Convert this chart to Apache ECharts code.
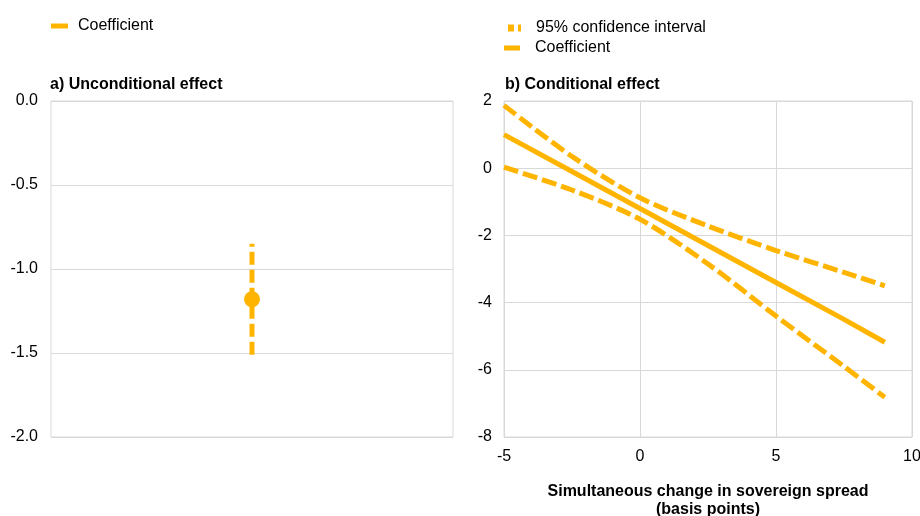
<!DOCTYPE html>
<html>
<head>
<meta charset="utf-8">
<script src="https://cdn.jsdelivr.net/npm/echarts@6/dist/echarts.min.js"></script>
<style>
  html, body { margin: 0; padding: 0; background: #fff; }
  #chart { width: 920px; height: 516px; }
</style>
</head>
<body>
<div id="chart"></div>
<script>
// a) unconditional effect: one coefficient with its 95% band
const uncondCoef = -1.18
const uncondCI = [-0.85, -1.51]

// b) conditional effect over the simultaneous change in sovereign spread
const spreadX = [-5, -2.5, 0, 2.5, 5, 7.5, 9]
const coefLine = [1.0, -0.1, -1.2, -2.3, -3.4, -4.5, -5.18]
const ciUpper = [1.87, 0.35, -0.88, -1.72, -2.45, -3.1, -3.5]
const ciLower = [0.03, -0.65, -1.52, -2.85, -4.4, -5.9, -6.82]

const leftTicks = [0, -0.5, -1, -1.5, -2]
const rightYTicks = [2, 0, -2, -4, -6, -8]
const rightXTicks = [-5, 0, 5, 10]

const amber = '#FFB400'
const gridGray = '#d9d9d9'
const font = 'Liberation Sans, Arial, sans-serif'
const fs = 16

const pair = (xs, ys) => xs.map((x, i) => [x, ys[i]])

const chart = echarts.init(document.getElementById('chart'))

const option = {
  backgroundColor: '#fff',
  animation: false,
  textStyle: { fontFamily: font },
  title: [
    {
      text: 'a) Unconditional effect',
      left: 50, top: 77, padding: 0,
      textStyle: { fontSize: fs, fontWeight: 'bold', color: '#000', fontFamily: font }
    },
    {
      text: 'b) Conditional effect',
      left: 505, top: 77, padding: 0,
      textStyle: { fontSize: fs, fontWeight: 'bold', color: '#000', fontFamily: font }
    }
  ],
  legend: [
    {
      left: 51, top: 18, padding: 0,
      itemWidth: 17, itemHeight: 5,
      data: [{ name: 'Coefficient', icon: 'rect' }],
      textStyle: { fontSize: fs, color: '#000', fontFamily: font, padding: [0, 0, 0, 5] }
    },
    {
      left: 508, top: 20, padding: 0,
      itemWidth: 13, itemHeight: 7,
      data: [{ name: '95% confidence interval', icon: 'path://M0,0h6v7h-6z M10,0h3v7h-3z' }],
      textStyle: { fontSize: fs, color: '#000', fontFamily: font, padding: [0, 0, 0, 10] }
    },
    {
      left: 504, top: 40, padding: 0,
      itemWidth: 16, itemHeight: 5,
      data: [{ name: 'Coefficient ', icon: 'rect' }],
      textStyle: { fontSize: fs, color: '#000', fontFamily: font, padding: [0, 0, 0, 10] }
    }
  ],
  grid: [
    { left: 51, top: 101, width: 402, height: 336, show: true, borderColor: gridGray, borderWidth: 1, outerBoundsMode: 'none' },
    { left: 504, top: 101, width: 408, height: 336, show: true, borderColor: gridGray, borderWidth: 1, outerBoundsMode: 'none' }
  ],
  xAxis: [
    { gridIndex: 0, type: 'value', min: 0, max: 1, show: false },
    {
      gridIndex: 1, type: 'value', min: rightXTicks[0], max: rightXTicks[rightXTicks.length - 1], interval: 5,
      axisLine: { show: false },
      axisTick: { show: false },
      axisLabel: { fontSize: fs, color: '#000', margin: 12, fontFamily: font },
      splitLine: { show: true, lineStyle: { color: gridGray } },
      name: 'Simultaneous change in sovereign spread\n(basis points)',
      nameLocation: 'middle',
      nameGap: 46,
      nameTextStyle: { fontSize: fs, fontWeight: 'bold', color: '#000', lineHeight: 18, fontFamily: font }
    }
  ],
  yAxis: [
    {
      gridIndex: 0, type: 'value', min: leftTicks[leftTicks.length - 1], max: leftTicks[0], interval: 0.5,
      axisLine: { show: false },
      axisTick: { show: false },
      axisLabel: { fontSize: fs, color: '#000', margin: 13, fontFamily: font, formatter: v => v.toFixed(1) },
      splitLine: { show: true, lineStyle: { color: gridGray } }
    },
    {
      gridIndex: 1, type: 'value', min: rightYTicks[rightYTicks.length - 1], max: rightYTicks[0], interval: 2,
      axisLine: { show: false },
      axisTick: { show: false },
      axisLabel: { fontSize: fs, color: '#000', margin: 12, fontFamily: font },
      splitLine: { show: true, lineStyle: { color: gridGray } }
    }
  ],
  series: [
    {
      name: '95% band a',
      type: 'line',
      xAxisIndex: 0, yAxisIndex: 0,
      data: [[0.5, uncondCI[0]], [0.5, uncondCI[1]]],
      symbol: 'none',
      lineStyle: { color: amber, width: 5, type: [13, 5], dashOffset: 10 },
      z: 2
    },
    {
      name: 'Coefficient',
      type: 'scatter',
      xAxisIndex: 0, yAxisIndex: 0,
      data: [[0.5, uncondCoef]],
      symbol: 'circle',
      symbolSize: 16,
      itemStyle: { color: amber, opacity: 1 },
      z: 3
    },
    {
      name: '95% confidence interval',
      type: 'line',
      xAxisIndex: 1, yAxisIndex: 1,
      data: pair(spreadX, ciUpper),
      smooth: 0.3,
      symbol: 'none',
      itemStyle: { color: amber },
      lineStyle: { color: amber, width: 5, type: [15, 5] }
    },
    {
      name: '95% confidence interval',
      type: 'line',
      xAxisIndex: 1, yAxisIndex: 1,
      data: pair(spreadX, ciLower),
      smooth: 0.3,
      symbol: 'none',
      itemStyle: { color: amber },
      lineStyle: { color: amber, width: 5, type: [15, 5] }
    },
    {
      name: 'Coefficient ',
      type: 'line',
      xAxisIndex: 1, yAxisIndex: 1,
      data: pair(spreadX, coefLine),
      symbol: 'none',
      itemStyle: { color: amber },
      lineStyle: { color: amber, width: 5 }
    }
  ]
}

chart.setOption(option)
</script>
</body>
</html>
